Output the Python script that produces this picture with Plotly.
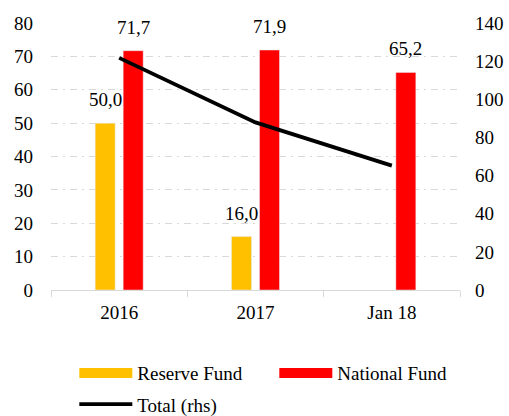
import plotly.graph_objects as go

categories = ["2016", "2017", "Jan 18"]
reserve_fund = [50.0, 16.0, None]
national_fund = [71.7, 71.9, 65.2]
total_rhs = [121.7, 87.9, 65.2]

left_ticks = [0, 10, 20, 30, 40, 50, 60, 70, 80]
right_ticks = [0, 20, 40, 60, 80, 100, 120, 140]

GOLD = "#FFC000"
RED = "#FF0000"
FONT = "Liberation Serif"
FS = 19

fig = go.Figure()
fig.add_trace(go.Bar(x=categories, y=reserve_fund, marker_color=GOLD, name="Reserve Fund",
                     showlegend=False))
fig.add_trace(go.Bar(x=categories, y=national_fund, marker_color=RED, name="National Fund",
                     showlegend=False))
fig.add_trace(go.Scatter(x=categories, y=total_rhs, mode="lines", yaxis="y2",
                         line=dict(color="black", width=3.8), name="Total (rhs)",
                         showlegend=False))

# legend entries (bar-style swatches drawn as thick lines)
for nm, col, w, lg in (("Reserve Fund", GOLD, 10, "legend"), ("National Fund", RED, 10, "legend"),
                       ("Total (rhs)", "black", 3.8, "legend2")):
    fig.add_trace(go.Scatter(x=[categories[0]], y=[None], mode="lines", line=dict(color=col, width=w),
                             name=nm, hoverinfo="skip", legend=lg))

annotations = []
for series, shift in ((reserve_fund, -14), (national_fund, 14)):
    for i, v in enumerate(series):
        if v is None:
            continue
        annotations.append(dict(x=i, y=v, xref="x", yref="y", text=f"{v:.1f}".replace(".", ","),
                                showarrow=False, xshift=shift, yshift=11, yanchor="bottom",
                                font=dict(family=FONT, size=FS, color="black")))

grid = dict(showgrid=True, gridcolor="#D9D9D9", gridwidth=1.3, griddash="7px,5px,2px,5px")
leg_common = dict(orientation="h", xanchor="left", yanchor="middle", yref="container",
                  entrywidth=132, itemwidth=53,
                  font=dict(family=FONT, size=FS), bgcolor="rgba(0,0,0,0)")

fig.update_layout(
    width=509, height=416,
    margin=dict(l=51, r=49, t=23, b=126),
    paper_bgcolor="white", plot_bgcolor="white",
    font=dict(family=FONT, size=FS, color="black"),
    barmode="group", bargap=0.589, bargroupgap=0.286,
    showlegend=True,
    legend=dict(x=0.057, y=0.103, **leg_common),
    legend2=dict(x=0.057, y=0.028, **leg_common),
    xaxis=dict(type="category", categoryorder="array", categoryarray=categories,
               range=[-0.5, 2.5], showline=True, linecolor="#D9D9D9", linewidth=1.3,
               ticks="outside", ticklen=6, tickcolor="#D9D9D9", tickwidth=1.3,
               tickson="boundaries", ticklabelstandoff=5, showgrid=False, tickangle=0,
               automargin=False),
    yaxis=dict(range=[0, 80], tickvals=left_ticks, zeroline=False, showline=False,
               ticklabelstandoff=17, automargin=False, **grid),
    yaxis2=dict(range=[0, 140], tickvals=right_ticks, overlaying="y", side="right",
                showgrid=False, zeroline=False, showline=False, ticklabelstandoff=14,
                automargin=False),
    annotations=annotations,
)

fig.write_html("out.html", config={"displayModeBar": False},
               post_script="document.body.style.margin='0';")
